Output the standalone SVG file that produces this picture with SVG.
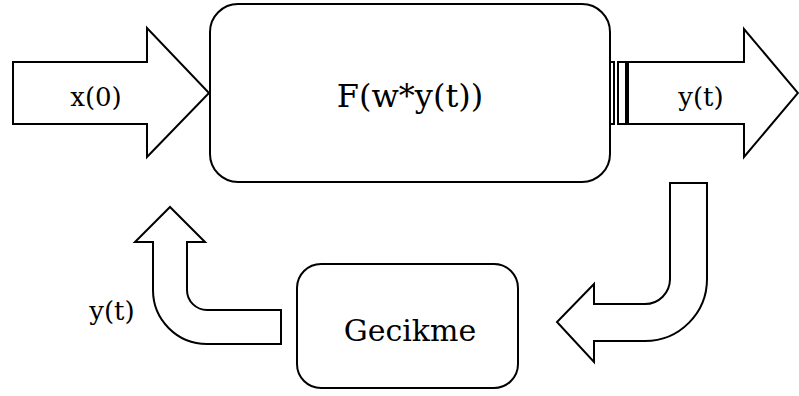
<svg xmlns="http://www.w3.org/2000/svg" width="799" height="396" viewBox="0 0 799 396">
  <style>
    .shape { fill: #ffffff; stroke: #000000; stroke-width: 2; stroke-linejoin: miter; }
    text { font-family: 'DejaVu Serif', 'Liberation Serif', serif; fill: #000000; text-anchor: middle; }
    .small { font-size: 26px; }
  </style>
  <rect width="799" height="396" fill="#ffffff"/>
  <g id="connectors">
    <g id="arrow-in">
      <path class="shape" d="M13,62 H147 V28 L209,93 L147,157 V124 H13 Z"/>
      <text class="small" x="96" y="106">x(0)</text>
    </g>
    <g id="arrow-out">
      <rect class="shape" x="609" y="62" width="5" height="62"/>
      <rect class="shape" x="618" y="62" width="8" height="62"/>
      <path class="shape" d="M628,62 H744 V29 L798,93 L744,157 V124 H628 Z"/>
      <text class="small" x="701" y="106">y(t)</text>
    </g>
    <g id="arrow-down">
      <path class="shape" d="M670,183 H707 V279 A62,62 0 0 1 645,341 H594 V362 L557,322 L594,284 V304 H645 A25,25 0 0 0 670,279 Z"/>
    </g>
    <g id="arrow-up">
      <path class="shape" d="M281,344 H207 A54,54 0 0 1 153,290 V242 H135 L170,207 L205,242 H187 V290 A20,20 0 0 0 207,310 H281 Z"/>
      <text class="small" x="112" y="320">y(t)</text>
    </g>
  </g>
  <g id="node-f">
    <rect class="shape" x="210" y="4" width="400" height="178" rx="28" ry="28"/>
    <text font-size="32" x="410" y="107">F(w*y(t))</text>
  </g>
  <g id="node-gecikme">
    <rect class="shape" x="297" y="264" width="221" height="124" rx="24" ry="24"/>
    <text font-size="30" x="410" y="341">Gecikme</text>
  </g>
</svg>
